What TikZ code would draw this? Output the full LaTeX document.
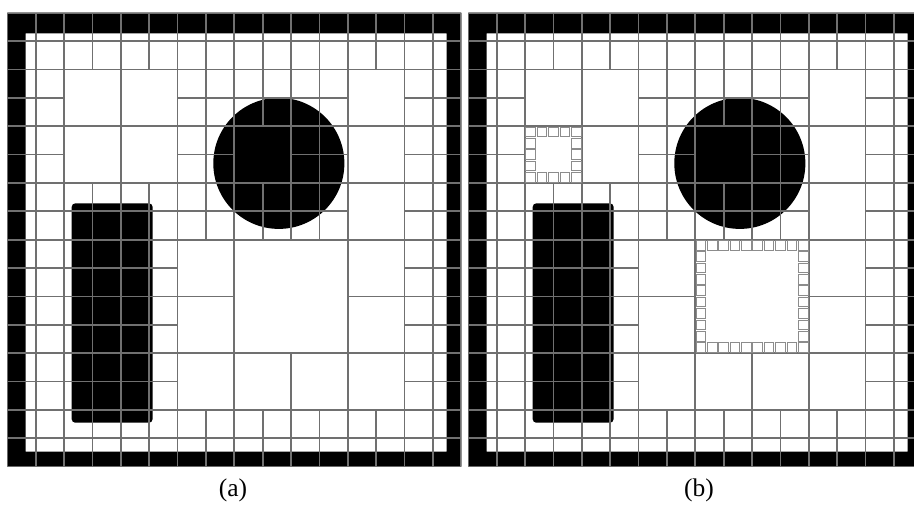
\documentclass[tikz,border=0pt]{standalone}
\usepackage{fontspec}
\setmainfont{Liberation Serif}
\usetikzlibrary{positioning}
\definecolor{meshgray}{RGB}{112,112,112}
\definecolor{finegray}{RGB}{140,140,140}
\tikzset{
  mesh/.style={draw=meshgray,line width=1pt},
  fine/.style={draw=finegray,line width=0.5pt},
  caption/.style={font=\fontsize{14.5}{16}\selectfont,inner sep=0pt}
}
% coarse blocks of the mesh: column/row (from top-left)/size, in cells
\newcommand{\coarse}{2/2/2,4/2/2,12/2/2,2/4/2,4/4/2,8/4/2,12/4/2,12/6/2,
  6/8/2,8/8/4,12/8/2,6/10/2,12/10/2,6/12/2,8/12/2,10/12/2,12/12/2}
\newcommand{\drawdomain}{%
  % walls and the two obstacles
  \fill[even odd rule] (0,0) rectangle (16,16) (0.65,0.73) rectangle (15.48,15.47);
  \fill[rounded corners=2pt] (2.27,6.72) rectangle (5.12,14.45);
  \fill (9.57,5.31) circle (2.31);
  % unit cells everywhere outside the coarse blocks
  \begin{scope}[even odd rule]
    \clip (0,0) rectangle (16,16)
      \foreach \bx/\by/\bs in \coarse {(\bx,\by) rectangle ++(\bs,\bs)};
    \foreach \k in {0,...,16}{
      \draw[mesh] (\k,0) -- (\k,16);
      \draw[mesh] (0,\k) -- (16,\k);
    }
  \end{scope}
  \foreach \bx/\by/\bs in \coarse
    \draw[mesh] (\bx,\by) rectangle ++(\bs,\bs);
}
% ring of small cells (0.4 cell) along the inside of a coarse block
\newcommand{\refinering}[3]{%
  \pgfmathtruncatemacro{\nlast}{round(#3/0.4)-1}%
  \pgfmathtruncatemacro{\nside}{\nlast-1}%
  \foreach \k in {0,...,\nlast}{
    \draw[fine] ({#1+0.4*\k+0.03},{#2+0.03}) rectangle ++(0.34,0.34);
    \draw[fine] ({#1+0.4*\k+0.03},{#2+0.4*\nlast+0.03}) rectangle ++(0.34,0.34);
  }
  \foreach \k in {1,...,\nside}{
    \draw[fine] ({#1+0.03},{#2+0.4*\k+0.03}) rectangle ++(0.34,0.34);
    \draw[fine] ({#1+0.4*\nlast+0.03},{#2+0.4*\k+0.03}) rectangle ++(0.34,0.34);
  }
}

\begin{document}
\begin{tikzpicture}[x=0.02cm,y=-0.02cm]
  \clip (0,0) rectangle (914,509);
  % (a) adaptive mesh
  \begin{scope}[shift={(7.3,12.7)},x=0.5676cm,y=-0.5676cm]
    \drawdomain
  \end{scope}
  % (b) same mesh, two coarse blocks refined along their edges
  \begin{scope}[shift={(468.3,12.7)},x=0.5676cm,y=-0.5676cm]
    \drawdomain
    \refinering{2}{4}{2}
    \refinering{8}{8}{4}
  \end{scope}
  \node[caption] (capa) at (233,490) {(a)};
  \node[caption] (capb) at (699,490) {(b)};
\end{tikzpicture}
\end{document}
